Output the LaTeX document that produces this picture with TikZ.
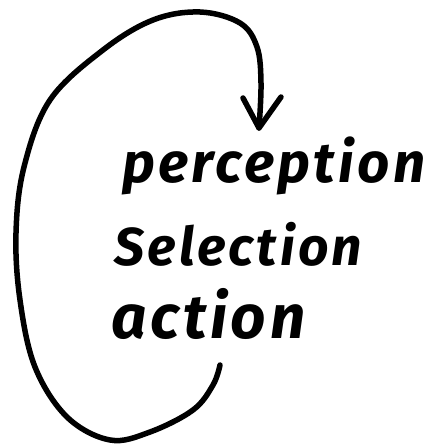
\documentclass[tikz,border=0pt]{standalone}
\usepackage{fontspec}
\setmainfont{Fira Sans}
\newfontfamily\handfont[LetterSpace=6]{Fira Sans}
\begin{document}
\begin{tikzpicture}[x=1pt,y=-1pt,
  loopline/.style={line width=5.5pt,line cap=round,line join=round},
  hand/.style={inner sep=0pt,anchor=base west,font=\handfont\fontsize{56}{60}\selectfont\bfseries\itshape}]
\useasboundingbox (0,0) rectangle (435,447);
\node[hand] (perc) at (122,182) {\resizebox{303pt}{!}{perception}};
\node[hand] (sel) at (114,265) {\resizebox{248pt}{!}{Selection}};
\node[hand] (act) at (111,338) {\resizebox{194pt}{!}{action}};
\coordinate (s) at (220,365);
\coordinate (e) at (259,128);
\draw[loopline] plot[smooth,tension=0.6] coordinates {(s) (213,385) (193,410) (150,432) (110,440) (67,417) (35,367) (20,300) (16,233) (24,167) (50,100) (103,50) (153,20) (200,12) (240,23) (257,47) (261,83) (e)};
\draw[loopline] (243,98) -- (e) -- (281,97);
\end{tikzpicture}
\end{document}
